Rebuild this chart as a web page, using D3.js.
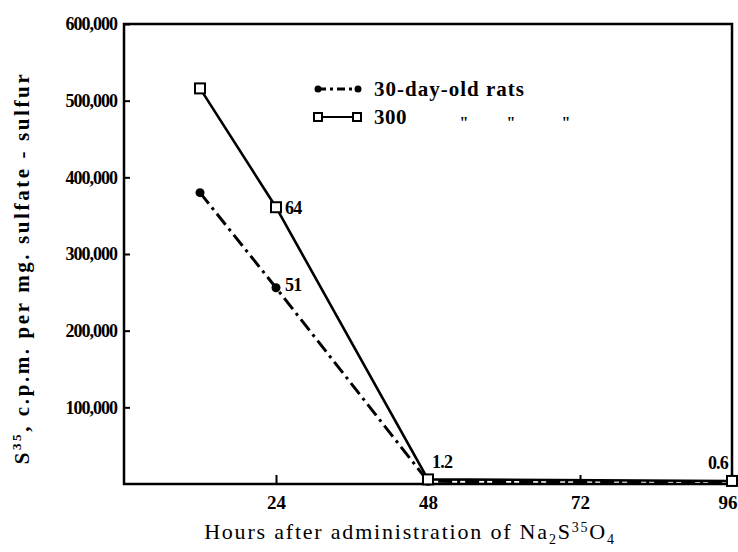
<!DOCTYPE html>
<html>
<head>
<meta charset="utf-8">
<script src="https://cdn.jsdelivr.net/npm/d3@7"></script>
<style>
  body { margin: 0; background: #fff; }
  text { fill: #000; }
</style>
</head>
<body>
<div id="root"></div>
<script>
'use strict';

// data
const hours      = [12, 24, 48, 96];
const young      = [380000, 256000, 3500, 2500];   // 30-day-old rats
const old        = [516000, 361000, 6000, 4000];   // 300-day-old rats
const yTicks     = [100000, 200000, 300000, 400000, 500000, 600000];
const xTicks     = [24, 48, 72, 96];
const pointNotes = [
  { series: 'old',   i: 1, text: '64',  dx: 9,   dy: 0,   anchor: 'start' },
  { series: 'young', i: 1, text: '51',  dx: 9,   dy: -3,  anchor: 'start' },
  { series: 'old',   i: 2, text: '1.2', dx: 4,   dy: -18, anchor: 'start' },
  { series: 'old',   i: 3, text: '0.6', dx: -4,  dy: -18, anchor: 'end' }
];

const Root = document.querySelector('#root');

function draw() {
  const w = 738, h = 552,
        svg = d3.select(Root).append('svg').attr('width', w).attr('height', h),
        x = d3.scaleLinear().domain([0, 96]).range([124, 732]),
        y = d3.scaleLinear().domain([0, 600000]).range([484, 24]),
        font = '"Liberation Serif", serif';

  const series = {
    young: hours.map((d, i) => [d, young[i]]),
    old:   hours.map((d, i) => [d, old[i]])
  };

  // frame
  svg.append('rect')
     .attr('x', x(0)).attr('y', y(600000))
     .attr('width', x(96) - x(0)).attr('height', y(0) - y(600000))
     .attr('fill', 'none').attr('stroke', '#000').attr('stroke-width', 2.5);

  // y axis
  const yAxis = d3.axisLeft(y).tickValues(yTicks).tickSize(-6).tickPadding(7)
                  .tickFormat(d3.format(','));
  const gy = svg.append('g').attr('transform', 'translate(' + x(0) + ',0)').call(yAxis);
  gy.select('.domain').remove();
  gy.selectAll('line').attr('stroke-width', 2);
  gy.selectAll('text').attr('font-family', font).attr('font-weight', 'bold')
    .attr('font-size', 18).attr('letter-spacing', -1.0);

  // x axis
  const xAxis = d3.axisBottom(x).tickValues(xTicks).tickSize(-9).tickPadding(9)
                  .tickFormat(d3.format('d'));
  const gx = svg.append('g').attr('transform', 'translate(0,' + y(0) + ')').call(xAxis);
  gx.select('.domain').remove();
  gx.selectAll('line').attr('stroke-width', 2);
  gx.selectAll('.tick').filter((d) => d === 96).select('line').remove();
  gx.selectAll('text').attr('font-family', font).attr('font-weight', 'bold')
    .attr('font-size', 19).attr('dy', '0.85em');
  gx.selectAll('.tick').filter((d) => d === 96).select('text')
    .attr('text-anchor', 'end').attr('x', 5);

  const line = d3.line().x((d) => x(d[0])).y((d) => y(d[1]));

  svg.append('path').datum(series.old).attr('d', line)
     .attr('fill', 'none').attr('stroke', '#000').attr('stroke-width', 2.6);
  svg.append('path').datum(series.young).attr('d', line)
     .attr('fill', 'none').attr('stroke', '#000').attr('stroke-width', 3)
     .attr('stroke-dasharray', '14,5,3,5');

  svg.selectAll('circle.pt').data(series.young).enter().append('circle')
     .attr('class', 'pt')
     .attr('cx', (d) => x(d[0])).attr('cy', (d) => y(d[1])).attr('r', 4.5)
     .attr('fill', '#000');
  svg.selectAll('rect.pt').data(series.old).enter().append('rect')
     .attr('class', 'pt')
     .attr('x', (d) => x(d[0]) - 5).attr('y', (d) => y(d[1]) - 5)
     .attr('width', 10).attr('height', 10)
     .attr('fill', '#fff').attr('stroke', '#000').attr('stroke-width', 2);

  // point notes
  svg.selectAll('text.note').data(pointNotes).enter().append('text')
     .attr('class', 'note')
     .attr('x', (d) => x(series[d.series][d.i][0]) + d.dx)
     .attr('y', (d) => y(series[d.series][d.i][1]) + d.dy)
     .attr('dy', '0.35em')
     .attr('text-anchor', (d) => d.anchor)
     .attr('font-family', font).attr('font-weight', 'bold').attr('font-size', 18)
     .attr('letter-spacing', -0.8)
     .text((d) => d.text);

  // legend
  const lg = svg.append('g');
  lg.append('line').attr('x1', 318).attr('x2', 358).attr('y1', 89).attr('y2', 89)
    .attr('stroke', '#000').attr('stroke-width', 3).attr('stroke-dasharray', '8,4,3,4');
  [318, 358].forEach((cx) => {
    lg.append('circle').attr('cx', cx).attr('cy', 89).attr('r', 3.5).attr('fill', '#000');
  });
  lg.append('text').attr('x', 374).attr('y', 89).attr('dy', '0.35em')
    .attr('font-family', font).attr('font-weight', 'bold').attr('font-size', 21)
    .attr('letter-spacing', 1.0)
    .text('30-day-old rats');

  lg.append('line').attr('x1', 318).attr('x2', 357).attr('y1', 117).attr('y2', 117)
    .attr('stroke', '#000').attr('stroke-width', 2.2);
  [318, 357].forEach((cx) => {
    lg.append('rect').attr('x', cx - 4).attr('y', 113).attr('width', 8).attr('height', 8)
      .attr('fill', '#fff').attr('stroke', '#000').attr('stroke-width', 2);
  });
  lg.append('text').attr('x', 374).attr('y', 117).attr('dy', '0.35em')
    .attr('font-family', font).attr('font-weight', 'bold').attr('font-size', 21)
    .attr('letter-spacing', 0.5)
    .text('300');
  [464, 511, 566].forEach((dx) => {
    lg.append('text').attr('x', dx).attr('y', 122).attr('dy', '0.35em')
      .attr('text-anchor', 'middle')
      .attr('font-family', font).attr('font-weight', 'bold').attr('font-size', 16)
      .text('"');
  });

  // axis titles
  const xt = svg.append('text').attr('x', 410).attr('y', 539)
     .attr('text-anchor', 'middle')
     .attr('font-family', font).attr('font-size', 22).attr('letter-spacing', 1.8);
  xt.append('tspan').text('Hours after administration of Na');
  xt.append('tspan').attr('font-size', 14).attr('dy', 5).text('2');
  xt.append('tspan').attr('dy', -5).text('S');
  xt.append('tspan').attr('font-size', 14).attr('dy', -7).text('35');
  xt.append('tspan').attr('dy', 7).text('O');
  xt.append('tspan').attr('font-size', 14).attr('dy', 5).text('4');

  const yt = svg.append('text')
     .attr('transform', 'translate(29,' + 268 + ') rotate(-90)')
     .attr('text-anchor', 'middle')
     .attr('font-family', font).attr('font-weight', 'bold').attr('font-size', 21)
     .attr('letter-spacing', 2.6);
  yt.append('tspan').text('S');
  yt.append('tspan').attr('font-size', 13).attr('dy', -8).text('35');
  yt.append('tspan').attr('dy', 8).text(', c.p.m. per mg. sulfate - sulfur');
}

draw();
</script>
</body>
</html>
